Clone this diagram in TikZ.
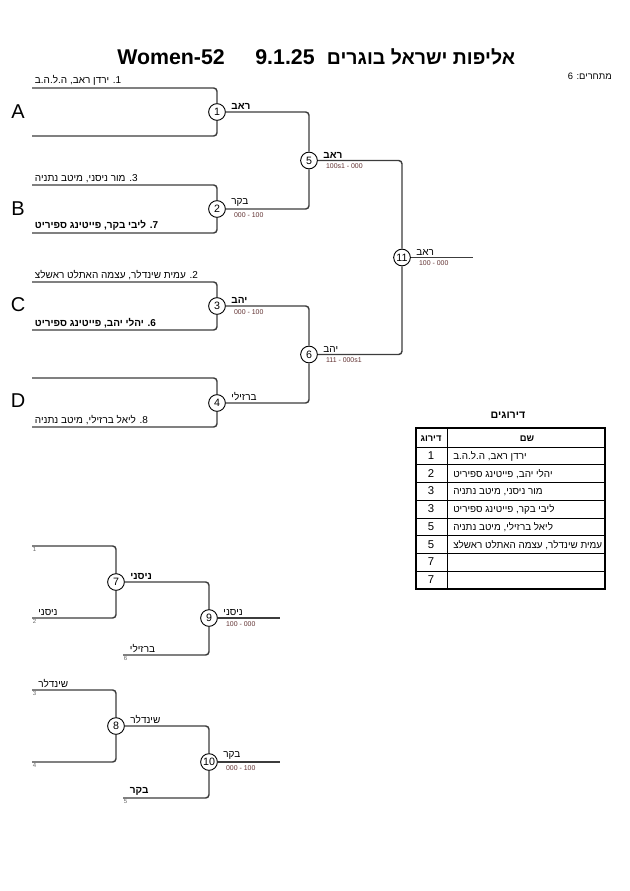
\documentclass[tikz,border=0pt]{standalone}
\usepackage{fontspec}
\usetikzlibrary{positioning}
\setmainfont{Liberation Sans}
\newfontfamily\hebfont[Script=Hebrew]{Liberation Sans}
\TeXXeTstate=1
\newcommand{\rl}[1]{{\hebfont\beginR #1\endR}}
\definecolor{bracketgray}{HTML}{3C3C3C}
\definecolor{scorebrown}{RGB}{96,48,48}

\begin{document}
\begin{tikzpicture}[x = 0.75pt, y = -0.75pt,
    bout/.style = {draw = bracketgray, line width = 1.1pt, rounded corners = 2.5pt},
    match/.style = {shape = circle, draw, fill = white, line width = 0.7pt, inner sep = 0.5pt,
        minimum size = 12.5pt, font = \fontsize{8}{9}\selectfont},
    entry/.style = {inner sep = 0pt, font = \fontsize{7.5}{9}\selectfont},
    strong/.style = {font = \fontsize{7.5}{9}\selectfont\bfseries},
    score/.style = {inner sep = 0pt, text = scorebrown, font = \fontsize{5.2}{6}\selectfont},
    seed/.style = {inner sep = 0pt, text = black!60, font = \fontsize{4.5}{5}\selectfont},
    pool/.style = {font = \fontsize{15}{17}\selectfont},
    heading/.style = {anchor = base, font = \fontsize{16}{18}\selectfont\bfseries}]
  \useasboundingbox (0,0) rectangle (630,891);
  % title
  \node[heading] (tw) at (171,65) {Women-52};
  \node[heading] (td) at (285,65) {9.1.25};
  \node[heading, font = \fontsize{14.6}{18}\selectfont\bfseries] (th) at (421,65) {\rl{אליפות ישראל בוגרים}};
  \node[entry, anchor = east, font = \fontsize{7}{8}\selectfont] (count) at (612,76) {\rl{מתחרים: 6}};

  % main bracket
  \coordinate (l1) at (32,88);  \coordinate (l2) at (32,136);
  \coordinate (l3) at (32,185); \coordinate (l4) at (32,233);
  \coordinate (l5) at (32,282); \coordinate (l6) at (32,330);
  \coordinate (l7) at (32,378); \coordinate (l8) at (32,427);
  \coordinate (e11) at (473,257.5);
  \node[match] (m1) at (217,112) {1};
  \node[match] (m2) at (217,209) {2};
  \node[match] (m3) at (217,306) {3};
  \node[match] (m4) at (217,403) {4};
  \node[match] (m5) at (309,160.5) {5};
  \node[match] (m6) at (309,354.5) {6};
  \node[match] (m11) at (402,257.5) {11};
  \foreach \a/\b in {l1/m1, l2/m1, l3/m2, l4/m2, l5/m3, l6/m3, l7/m4, l8/m4,
      m1/m5, m2/m5, m3/m6, m4/m6, m5/m11, m6/m11}
    \draw[bout] (\a) -| (\b);
  \draw[bout] (m11) -- (e11);

  \node[pool] (poolA) at (18,112) {A};
  \node[pool] (poolB) at (18,209) {B};
  \node[pool] (poolC) at (18,305) {C};
  \node[pool] (poolD) at (18,401) {D};

  \node[entry, above right = 1.5pt and 2pt of l1] (p1) {\rl{1. ירדן ראב, ה.ל.ה.ב}};
  \node[entry, above right = 1.5pt and 2pt of l3] (p3) {\rl{3. מור ניסני, מיטב נתניה}};
  \node[entry, strong, above right = 1.5pt and 2pt of l4] (p7) {\rl{7. ליבי בקר, פייטינג ספיריט}};
  \node[entry, above right = 1.5pt and 2pt of l5] (p2) {\rl{2. עמית שינדלר, עצמה האתלט ראשלצ}};
  \node[entry, strong, above right = 1.5pt and 2pt of l6] (p6) {\rl{6. יהלי יהב, פייטינג ספיריט}};
  \node[entry, above right = 1.5pt and 2pt of l8] (p8) {\rl{8. ליאל ברזילי, מיטב נתניה}};

  \node[entry, strong, above right = 1.5pt and 4pt of m1.east] (w1) {\rl{ראב}};
  \node[entry, above right = 1.5pt and 4pt of m2.east] (w2) {\rl{בקר}};
  \node[score, below right = 2.5pt and 6pt of m2.east] (sc2) {000 - 100};
  \node[entry, strong, above right = 1.5pt and 4pt of m3.east] (w3) {\rl{יהב}};
  \node[score, below right = 2.5pt and 6pt of m3.east] (sc3) {000 - 100};
  \node[entry, above right = 1.5pt and 4pt of m4.east] (w4) {\rl{ברזילי}};
  \node[entry, strong, above right = 1.5pt and 4pt of m5.east] (w5) {\rl{ראב}};
  \node[score, below right = 2.5pt and 6pt of m5.east] (sc5) {100s1 - 000};
  \node[entry, above right = 1.5pt and 4pt of m6.east] (w6) {\rl{יהב}};
  \node[score, below right = 2.5pt and 6pt of m6.east] (sc6) {111 - 000s1};
  \node[entry, above right = 1.5pt and 4pt of m11.east] (w11) {\rl{ראב}};
  \node[score, below right = 2.5pt and 6pt of m11.east] (sc11) {100 - 000};

  % rankings
  \node[entry, strong, font = \fontsize{8}{9}\selectfont\bfseries] (rtitle) at (508,415) {\rl{דירוגים}};
  \foreach \r in {0,...,7}
    \draw[line width = 0.5pt] (416,{447+17.75*\r}) -- (605,{447+17.75*\r});
  \draw[line width = 0.5pt] (447,428) -- (447,589);
  \draw[line width = 1.2pt] (416,428) rectangle (605,589);
  \node[entry, strong, anchor = base, font = \fontsize{7}{8}\selectfont\bfseries] (hrank) at (431,441.5) {\rl{דירוג}};
  \node[entry, strong, anchor = base, font = \fontsize{7}{8}\selectfont\bfseries] (hname) at (527,441.5) {\rl{שם}};
  \foreach \r/\rank/\name in {1/1/{ירדן ראב, ה.ל.ה.ב}, 2/2/{יהלי יהב, פייטינג ספיריט},
      3/3/{מור ניסני, מיטב נתניה}, 4/3/{ליבי בקר, פייטינג ספיריט},
      5/5/{ליאל ברזילי, מיטב נתניה}, 6/5/{עמית שינדלר, עצמה האתלט ראשלצ}, 7/7/{}, 8/7/{}}{
    \node[entry, anchor = base, font = \fontsize{8.5}{9}\selectfont] (rank\r) at (431,{441.5+17.75*\r}) {\rank};
    \node[entry, anchor = base west, font = \fontsize{7.4}{8}\selectfont] (name\r) at (453,{441.5+17.75*\r}) {\rl{\name}};
  }

  % repechage
  \coordinate (r1) at (32,546);  \coordinate (r2) at (32,618);
  \coordinate (r3) at (123,655); \coordinate (r4) at (32,690);
  \coordinate (r5) at (32,762);  \coordinate (r6) at (123,798);
  \coordinate (e9) at (280,618); \coordinate (e10) at (280,762);
  \node[match] (m7) at (116,582) {7};
  \node[match] (m9) at (209,618) {9};
  \node[match] (m8) at (116,726) {8};
  \node[match] (m10) at (209,762) {10};
  \foreach \a/\b in {r1/m7, r2/m7, m7/m9, r3/m9, r4/m8, r5/m8, m8/m10, r6/m10}
    \draw[bout] (\a) -| (\b);
  \draw[bout] (m9) -- (e9);
  \draw[bout] (m10) -- (e10);

  \node[seed, below right = 1pt and 0.5pt of r1] (n1) {1};
  \node[seed, below right = 1pt and 0.5pt of r2] (n2) {2};
  \node[seed, below right = 1pt and 0.5pt of r3] (n6) {6};
  \node[seed, below right = 1pt and 0.5pt of r4] (n3) {3};
  \node[seed, below right = 1pt and 0.5pt of r5] (n4) {4};
  \node[seed, below right = 1pt and 0.5pt of r6] (n5) {5};
  \node[entry, above right = 1.5pt and 4.5pt of r2] (q2) {\rl{ניסני}};
  \node[entry, above right = 1.5pt and 5pt of r3] (q3) {\rl{ברזילי}};
  \node[entry, above right = 1.5pt and 4.5pt of r4] (q4) {\rl{שינדלר}};
  \node[entry, strong, above right = 1.5pt and 5pt of r6] (q6) {\rl{בקר}};

  \node[entry, strong, above right = 1.5pt and 4pt of m7.east] (w7) {\rl{ניסני}};
  \node[entry, above right = 1.5pt and 4pt of m8.east] (w8) {\rl{שינדלר}};
  \node[entry, above right = 1.5pt and 4pt of m9.east] (w9) {\rl{ניסני}};
  \node[score, below right = 2.5pt and 6pt of m9.east] (sc9) {100 - 000};
  \node[entry, above right = 1.5pt and 4pt of m10.east] (w10) {\rl{בקר}};
  \node[score, below right = 2.5pt and 6pt of m10.east] (sc10) {000 - 100};
\end{tikzpicture}
\end{document}
